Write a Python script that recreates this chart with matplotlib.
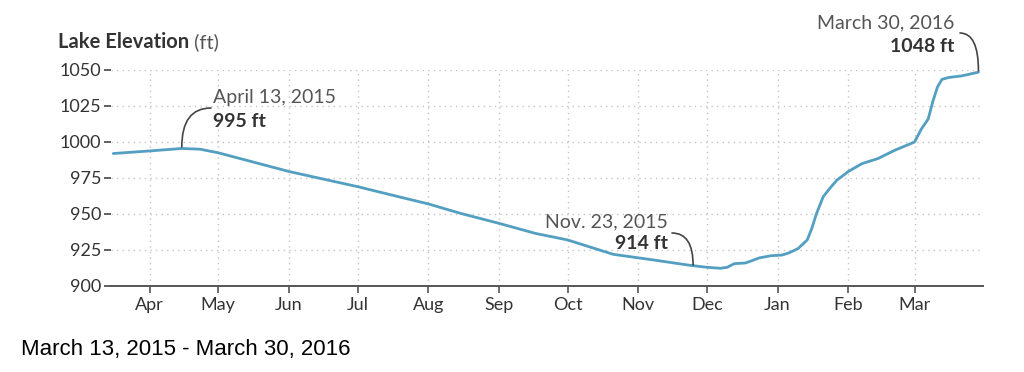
import matplotlib
matplotlib.use("Agg")
import matplotlib.pyplot as plt
import matplotlib.dates as mdates
import numpy as np
from datetime import datetime

# ---- data ----
dates = ["2015-03-16", "2015-04-01", "2015-04-15", "2015-04-23", "2015-05-01",
         "2015-06-01", "2015-07-01", "2015-07-19", "2015-08-01", "2015-08-15",
         "2015-09-01", "2015-09-17", "2015-10-01", "2015-10-10", "2015-10-21",
         "2015-11-08", "2015-11-23", "2015-12-01", "2015-12-07", "2015-12-10",
         "2015-12-13", "2015-12-18", "2015-12-24", "2015-12-29", "2016-01-03",
         "2016-01-06", "2016-01-10", "2016-01-14", "2016-01-16", "2016-01-18",
         "2016-01-21", "2016-01-24", "2016-01-27", "2016-02-01", "2016-02-07",
         "2016-02-14", "2016-02-21", "2016-03-01", "2016-03-04", "2016-03-07",
         "2016-03-09", "2016-03-11", "2016-03-13", "2016-03-16", "2016-03-22",
         "2016-03-29"]
elevation = [992.0, 993.8, 995.5, 995.0, 992.5,
             979.5, 969.0, 962.0, 957.0, 950.5,
             943.5, 936.5, 932.0, 927.5, 922.0,
             918.0, 914.5, 913.0, 912.3, 913.0,
             915.5, 916.0, 919.5, 921.0, 921.5,
             923.0, 926.0, 932.0, 940.0, 950.0,
             962.0, 968.0, 973.5, 979.5, 985.0,
             988.5, 994.0, 1000.0, 1009.0, 1016.0,
             1028.0, 1038.0, 1043.5, 1044.8, 1046.0,
             1048.5]

month_ticks = ["2015-04-01", "2015-05-01", "2015-06-01", "2015-07-01", "2015-08-01",
               "2015-09-01", "2015-10-01", "2015-11-01", "2015-12-01", "2016-01-01",
               "2016-02-01", "2016-03-01"]
month_labels = ["Apr", "May", "Jun", "Jul", "Aug", "Sep", "Oct", "Nov", "Dec",
                "Jan", "Feb", "Mar"]
y_ticks = [900, 925, 950, 975, 1000, 1025, 1050]

annot_dates = ["2015-04-15", "2015-11-25", "2016-03-29"]
annot_values = [996.5, 914.5, 1049.5]
annot_titles = ["April 13, 2015", "Nov. 23, 2015", "March 30, 2016"]
annot_values_txt = ["995 ft", "914 ft", "1048 ft"]

title_bold = "Lake Elevation"
title_unit = " (ft)"
subtitle = "March 13, 2015 - March 30, 2016"

# ---- figure ----
W, H = 1024, 372
fig = plt.figure(figsize=(W / 100, H / 100), dpi=100)
ax = fig.add_axes([111 / W, 86 / H, 872 / W, 216 / H])

to_dt = lambda s: datetime.strptime(s, "%Y-%m-%d")
x = [to_dt(d) for d in dates]

line_color = "#539fc2"
text_dark = "#333333"
text_mid = "#555555"
grid_color = "#c4c4c4"

ax.plot(x, elevation, color=line_color, lw=2.0, solid_capstyle="round",
        solid_joinstyle="round", zorder=3, clip_on=False)

ax.set_xlim(to_dt("2015-03-15"), to_dt("2016-03-31"))
ax.set_ylim(900, 1050)

ax.set_xticks([to_dt(d) for d in month_ticks])
ax.set_xticklabels(month_labels)
ax.set_yticks(y_ticks)
ax.set_yticklabels([str(v) for v in y_ticks])

for s in ["top", "right", "left"]:
    ax.spines[s].set_visible(False)
ax.spines["bottom"].set_color("#555555")
ax.spines["bottom"].set_linewidth(1.4)

ax.tick_params(axis="x", direction="out", length=5, width=1.2, color="#555555",
               pad=3, labelsize=13, labelcolor=text_dark)
ax.tick_params(axis="y", direction="out", length=5, width=1.2, color="#444444",
               pad=2, labelsize=13, labelcolor=text_dark)
for lab in ax.get_xticklabels() + ax.get_yticklabels():
    lab.set_fontfamily("Lato")

ax.grid(True, color=grid_color, linestyle=(0, (1, 3)), linewidth=1.0, zorder=0)
ax.set_axisbelow(True)

# ---- annotations ----
def fp(px, py):
    # image pixel coords (top-left origin) -> figure pixels (bottom-left)
    return (px, H - py)

conn_starts = [(211, 108), (672, 233), (960, 33)]
for d, v, st in zip(annot_dates, annot_values, conn_starts):
    ax.annotate("", xy=(to_dt(d), v), xycoords="data",
                xytext=fp(*st), textcoords="figure pixels",
                arrowprops=dict(arrowstyle="-", color="#444444", lw=1.2,
                                shrinkA=0, shrinkB=0,
                                connectionstyle="angle3,angleA=0,angleB=90"),
                annotation_clip=False)

def ftext(px, py, s, **kw):
    fig.text(px / W, 1 - py / H, s, **kw)

AFS = 14
# April
ftext(213, 103, annot_titles[0], ha="left", va="baseline", fontsize=AFS,
      family="Lato", color=text_mid)
ftext(213, 127, annot_values_txt[0], ha="left", va="baseline", fontsize=AFS,
      family="Lato", weight="bold", color=text_dark)
# Nov
ftext(668, 227, annot_titles[1], ha="right", va="baseline", fontsize=AFS,
      family="Lato", color=text_mid)
ftext(668, 249, annot_values_txt[1], ha="right", va="baseline", fontsize=AFS,
      family="Lato", weight="bold", color=text_dark)
# March
ftext(954, 28, annot_titles[2], ha="right", va="baseline", fontsize=AFS,
      family="Lato", color=text_mid)
ftext(954, 52, annot_values_txt[2], ha="right", va="baseline", fontsize=AFS,
      family="Lato", weight="bold", color=text_dark)

# ---- title ----
t = fig.text(58 / W, 1 - 48 / H, title_bold, ha="left", va="baseline",
             fontsize=14.5, family="Lato", weight="bold", color=text_dark)
fig.canvas.draw()
bb = t.get_window_extent()
fig.text(bb.x1 / W, 1 - 48 / H, title_unit, ha="left", va="baseline",
         fontsize=14.5, family="Lato", color=text_mid)

# ---- subtitle ----
fig.text(21 / W, 1 - 355 / H, subtitle, ha="left", va="baseline", fontsize=16,
         family=["Liberation Sans", "DejaVu Sans"], color="black")

fig.savefig("out.png", dpi=100)
